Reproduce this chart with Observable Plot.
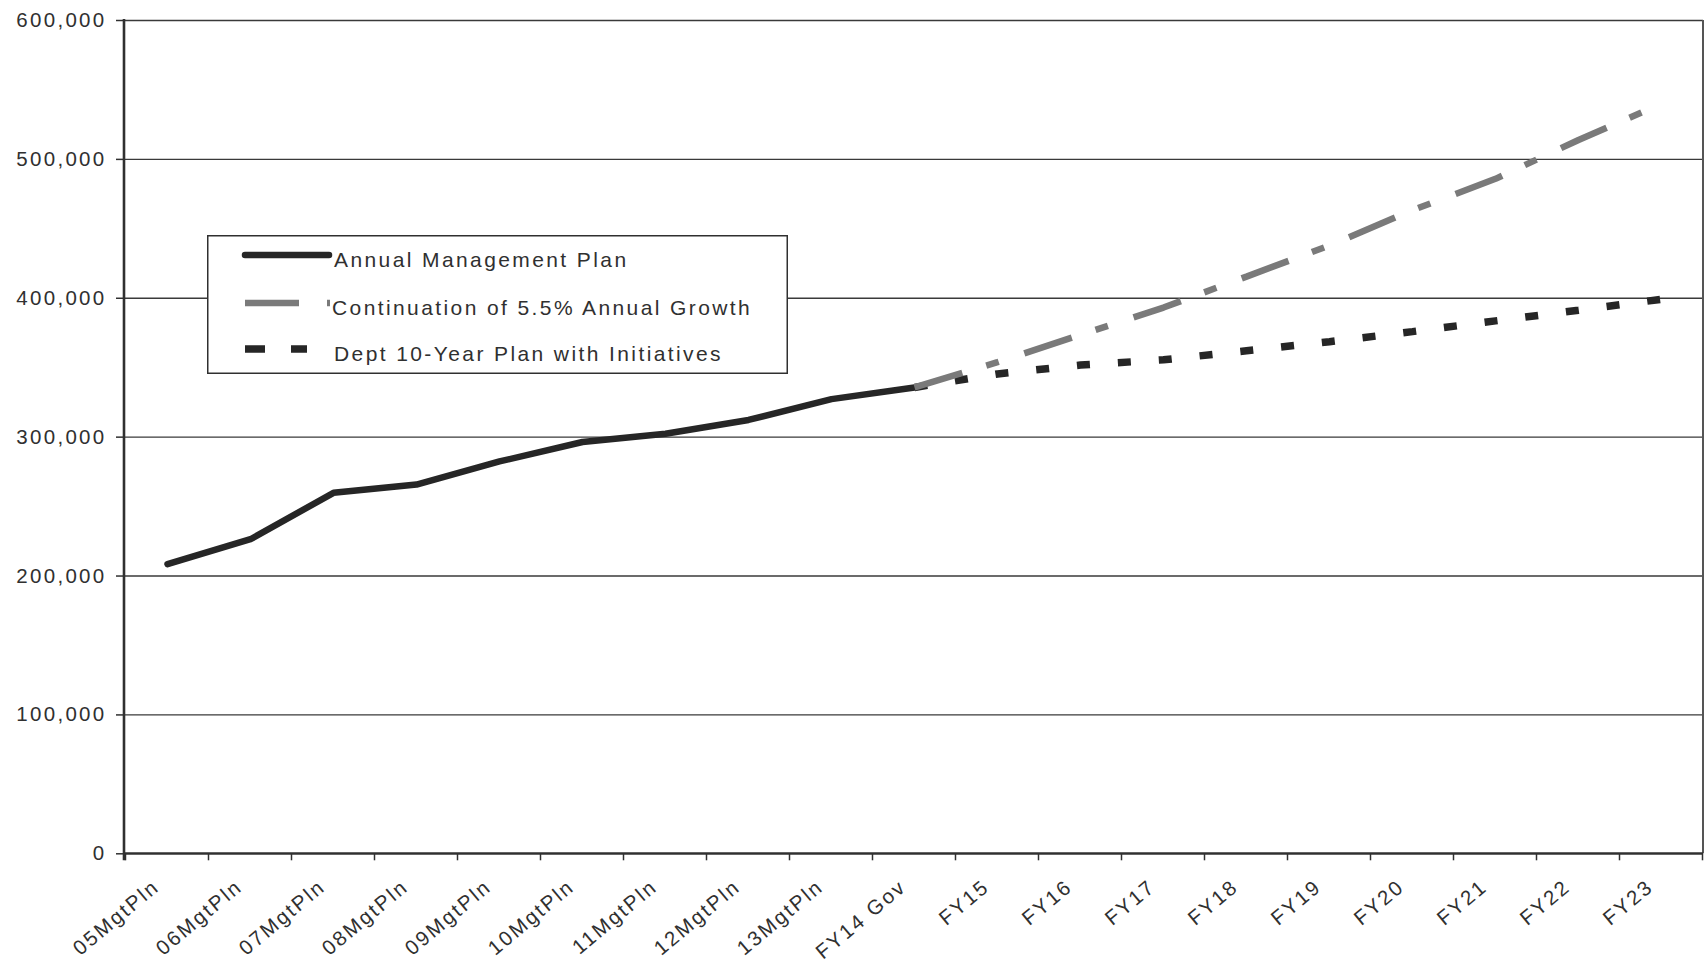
<!DOCTYPE html>
<html>
<head>
<meta charset="utf-8">
<script src="https://cdn.jsdelivr.net/npm/d3@7"></script>
<script src="https://cdn.jsdelivr.net/npm/@observablehq/plot@0.6"></script>
<style>
html, body { margin: 0; padding: 0; background: #fff; }
#wrap { position: relative; width: 1708px; height: 962px; overflow: hidden; }
#legend { position: absolute; left: 207px; top: 235px; }
</style>
</head>
<body>
<div id="wrap"></div>
<script>
// ---- data ----
const categories = ["05MgtPln", "06MgtPln", "07MgtPln", "08MgtPln", "09MgtPln", "10MgtPln",
  "11MgtPln", "12MgtPln", "13MgtPln", "FY14 Gov", "FY15", "FY16", "FY17", "FY18", "FY19",
  "FY20", "FY21", "FY22", "FY23"];

const seriesNames = ["Annual Management Plan", "Continuation of 5.5% Annual Growth", "Dept 10-Year Plan with Initiatives"];

const ampCats = ["05MgtPln", "06MgtPln", "07MgtPln", "08MgtPln", "09MgtPln", "10MgtPln",
  "11MgtPln", "12MgtPln", "13MgtPln", "FY14 Gov"];
const ampValues = [208600, 226500, 259900, 265900, 282500, 296500, 302400, 312400, 327400, 335800];

const projCats = ["FY14 Gov", "FY15", "FY16", "FY17", "FY18", "FY19", "FY20", "FY21", "FY22", "FY23"];
const growthValues = [335800, 354000, 373700, 393300, 415600, 438000, 463400, 486000, 514000, 540000];
const deptValues = [335800, 345500, 351900, 355700, 362200, 368700, 376000, 383700, 391400, 399300];

const yTicks = [0, 100000, 200000, 300000, 400000, 500000, 600000];

// ---- tables built from the arrays ----
const ampData = ampCats.map((c, i) => ({cat: c, value: ampValues[i]}));
const growthData = projCats.map((c, i) => ({cat: c, value: growthValues[i]}));
const deptData = projCats.map((c, i) => ({cat: c, value: deptValues[i]}));

const ink = "#303030";

// boundary ticks + axis frame lines (Excel style: ticks between categories)
function frameAndTicks(index, scales, values, dimensions) {
  const x = scales.x;
  const step = x(categories[1]) - x(categories[0]);
  const left = dimensions.marginLeft;
  const right = dimensions.width - dimensions.marginRight;
  const top = dimensions.marginTop;
  const bottom = dimensions.height - dimensions.marginBottom;
  const bounds = categories.map(c => x(c) - step / 2)
    .concat([x(categories[categories.length - 1]) + step / 2]);
  const g = d3.create("svg:g");
  g.selectAll("line.tick").data(bounds).join("line")
    .attr("x1", d => d).attr("x2", d => d)
    .attr("y1", bottom).attr("y2", bottom + 7)
    .attr("stroke", ink).attr("stroke-width", 1.5);
  g.append("line").attr("x1", right).attr("x2", right).attr("y1", top).attr("y2", bottom)
    .attr("stroke", "#555").attr("stroke-width", 2);
  g.append("line").attr("x1", left).attr("x2", right).attr("y1", bottom).attr("y2", bottom)
    .attr("stroke", ink).attr("stroke-width", 2.2);
  g.append("line").attr("x1", left).attr("x2", left).attr("y1", top - 1).attr("y2", bottom + 7)
    .attr("stroke", ink).attr("stroke-width", 2.6);
  return g.node();
}

const chart = Plot.plot({
  width: 1708,
  height: 962,
  marginLeft: 124,
  marginRight: 5,
  marginTop: 20,
  marginBottom: 108.7,
  style: {
    fontFamily: "'Liberation Sans', Arial, sans-serif",
    fontSize: "20px",
    letterSpacing: "2.3px",
    color: ink,
    background: "#fff"
  },
  x: {type: "point", domain: categories, padding: 0.5, label: null},
  y: {domain: [0, 600000], label: null},
  marks: [
    Plot.gridY(yTicks, {stroke: "#3a3a3a", strokeOpacity: 1, strokeWidth: 1.4}),
    Plot.axisY(yTicks, {tickSize: 8, tickPadding: 10, tickFormat: d3.format(","), fontSize: 20.5, stroke: ink, strokeWidth: 1.5}),
    Plot.axisX({tickSize: 0, tickPadding: 30, tickRotate: -40, dx: -11, fontSize: 20.5}),
    frameAndTicks,
    Plot.line(ampData, {x: "cat", y: "value", stroke: "#262626", strokeWidth: 6.5}),
    Plot.line(deptData, {x: "cat", y: "value", stroke: "#262626", strokeWidth: 7.5,
      strokeDasharray: "13,28", strokeLinecap: "butt", strokeLinejoin: "miter"}),
    Plot.line(growthData, {x: "cat", y: "value", stroke: "#7a7a7a", strokeWidth: 6.5,
      strokeDasharray: "50,25,13,27", strokeLinecap: "butt", strokeLinejoin: "miter"})
  ]
});

const wrap = document.getElementById("wrap");
wrap.appendChild(chart);

// ---- legend (real text) ----
const lw = 581, lh = 139;
const legend = d3.create("svg").attr("id", "legend")
  .attr("width", lw).attr("height", lh)
  .style("font-family", "'Liberation Sans', Arial, sans-serif");
legend.append("rect").attr("x", 0.75).attr("y", 0.75).attr("width", lw - 1.5).attr("height", lh - 1.5)
  .attr("fill", "#fff").attr("stroke", ink).attr("stroke-width", 1.5);
const rowY = [20, 68, 114];
// row 1: solid
legend.append("line").attr("x1", 38).attr("x2", 122).attr("y1", rowY[0]).attr("y2", rowY[0])
  .attr("stroke", "#262626").attr("stroke-width", 6.5).attr("stroke-linecap", "round");
// row 2: gray dash
legend.append("line").attr("x1", 38).attr("x2", 92).attr("y1", rowY[1]).attr("y2", rowY[1])
  .attr("stroke", "#7a7a7a").attr("stroke-width", 6.5);
legend.append("line").attr("x1", 120).attr("x2", 123).attr("y1", rowY[1]).attr("y2", rowY[1])
  .attr("stroke", "#7a7a7a").attr("stroke-width", 6.5);
// row 3: black squares
legend.append("line").attr("x1", 38).attr("x2", 100).attr("y1", rowY[2]).attr("y2", rowY[2])
  .attr("stroke", "#262626").attr("stroke-width", 7.5).attr("stroke-dasharray", "20,26");
const textX = [127, 125, 127];
legend.selectAll("text.lbl").data(seriesNames).join("text")
  .attr("x", (d, i) => textX[i])
  .attr("y", (d, i) => rowY[i] + 11.5)
  .attr("font-size", 21)
  .attr("letter-spacing", "2.4px")
  .attr("fill", ink)
  .text(d => d);
wrap.appendChild(legend.node());
</script>
</body>
</html>
